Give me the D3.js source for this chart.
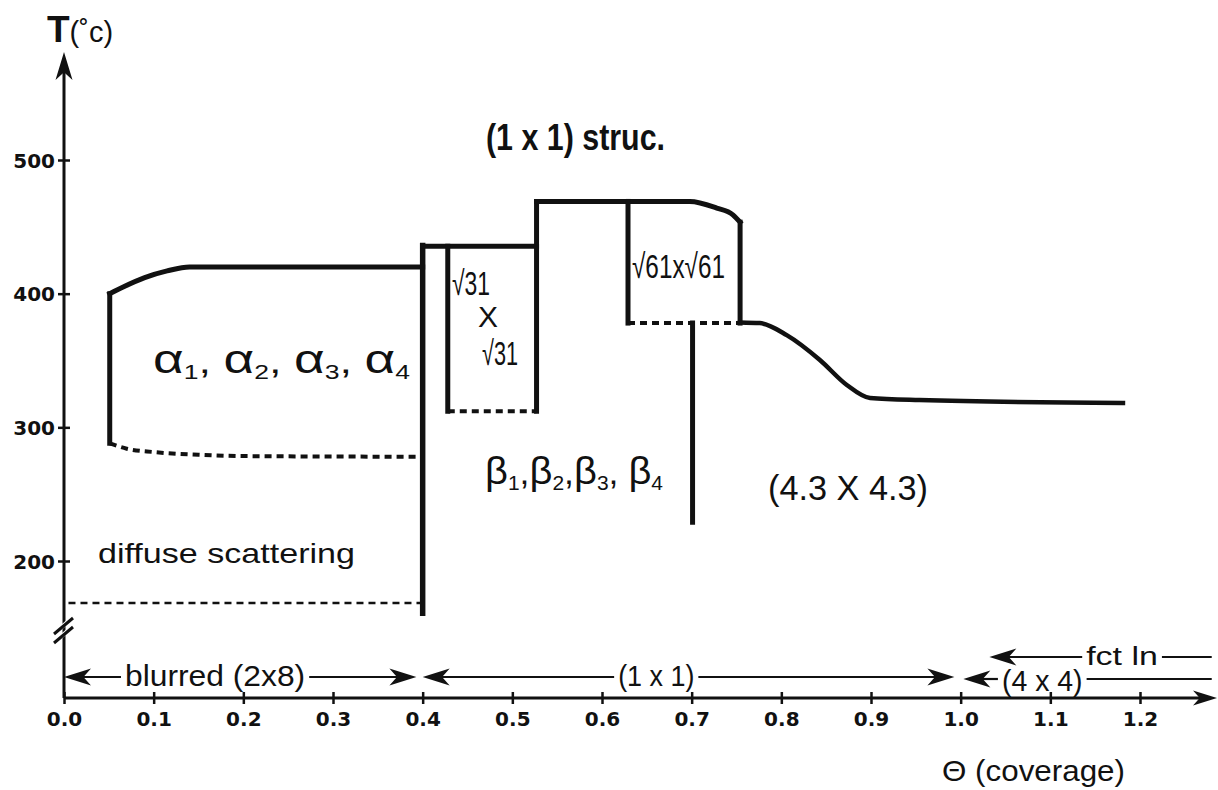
<!DOCTYPE html>
<html><head><meta charset="utf-8">
<script src="https://cdn.jsdelivr.net/npm/d3@7/dist/d3.min.js"></script>
<style>body{margin:0;background:#fff}svg{display:block}</style>
</head><body>
<svg id="chart" width="1218" height="790"></svg>
<script>
// ---------- data ----------
const xTickValues = [0.0,0.1,0.2,0.3,0.4,0.5,0.6,0.7,0.8,0.9,1.0,1.1,1.2];
const xTickLabels = ["0.0","0.1","0.2","0.3","0.4","0.5","0.6","0.7","0.8","0.9","1.0","1.1","1.2"];
const yTickValues = [200,300,400,500];
const yTickLabels = ["200","300","400","500"];

// phase boundaries: [theta (coverage), T (°C)]
const alphaWall    = [[0.051,288],[0.051,400]];
const alphaUpper   = [[0.051,400],[0.066,405],[0.09,412],[0.115,417],[0.14,420],[0.40,420]];
const alphaLower   = [[0.051,288],[0.07,284],[0.10,281.5],[0.15,279.5],[0.20,278.5],[0.40,278]];
const diffuseLimit = [[0.005,168.5],[0.40,168.5]];
const wall04       = [[0.40,161],[0.40,436]];
const sqrt31Top    = [[0.40,435.5],[0.527,435.5]];
const sqrt31Left   = [[0.428,435.5],[0.428,312]];
const sqrt31Bottom = [[0.428,312],[0.527,312]];
const sqrt31Right  = [[0.527,312],[0.527,469]];
const sqrt61Top    = [[0.527,469],[0.629,469],[0.698,469],[0.728,464],[0.746,459],[0.754,453.5]];
const sqrt61Left   = [[0.629,469],[0.629,378]];
const sqrt61Right  = [[0.754,453.5],[0.754,378]];
const sqrt61Bottom = [[0.629,378],[0.754,378]];
const wall07       = [[0.701,378],[0.701,229]];
const highCovCurve = [[0.754,378.5],[0.776,378],[0.806,369],[0.843,350.4],[0.873,331.7],[0.899,321.9],[0.954,320.4],[1.181,318.2]];

// coverage bands below the break (theta ranges)
const bandLabels = ["blurred (2x8)","(1 x 1)","(4 x 4)","fct ln"];
const bandFrom   = [0.0, 0.400, 1.003, 1.032];
const bandTo     = [0.393, 0.993, 1.280, 1.280];
const bandTextFrom = [0.068, 0.618, 1.046, 1.140];
const bandTextTo   = [0.269, 0.703, 1.136, 1.220];
const bandLeftHead  = [true, true, true, true];
const bandRightHead = [true, true, false, false];
const bandRow = [0, 0, 0, 1];

// ---------- drawing ----------
const svg = d3.select("#chart");
const x = d3.scaleLinear().domain([0,1.2]).range([64,1140]);
const y = d3.scaleLinear().domain([200,500]).range([561,160]);
const axisY = 698;
const x0 = x(0);
const ink = "#111";
const FONT = "'Liberation Sans', Arial, sans-serif";

// axis lines
svg.append("line").attr("x1",x0).attr("y1",axisY).attr("x2",x0).attr("y2",60)
  .attr("stroke",ink).attr("stroke-width",3);
svg.append("line").attr("x1",x0).attr("y1",axisY).attr("x2",1205).attr("y2",axisY)
  .attr("stroke",ink).attr("stroke-width",3);

function head(px, py, dir, L, h, vertical) {
  const p = vertical
    ? `M0,0 L${-h},${L} L0,${L*0.72} L${h},${L} Z`
    : `M0,0 L${-dir*L},${-h} L${-dir*L*0.72},0 L${-dir*L},${h} Z`;
  svg.append("path").attr("d",p).attr("transform",`translate(${px},${py})`).attr("fill",ink);
}
head(x0, 52, 0, 28, 8.5, true);
head(1217, axisY, 1, 24, 7.5, false);

// break marks
[0,-9].forEach(o=>{
  svg.append("rect").attr("x",x0-8).attr("y",628+o+4).attr("width",16).attr("height",4).attr("fill","#fff")
    .attr("transform",`rotate(-40,${x0},${634+o})`);
  svg.append("line").attr("x1",x0-10).attr("y1",643+o).attr("x2",x0+9).attr("y2",627+o)
    .attr("stroke",ink).attr("stroke-width",3);
});

// y ticks
const yAx = svg.append("g").attr("transform",`translate(${x0},0)`)
  .call(d3.axisLeft(y).tickValues(yTickValues).tickFormat((d,i)=>yTickLabels[i]).tickSize(6));
yAx.select(".domain").remove();
yAx.selectAll(".tick line").attr("x1",-6).attr("x2",6).attr("stroke",ink).attr("stroke-width",2.5);
yAx.selectAll(".tick text").attr("x",-9).attr("dy","0.36em")
  .attr("font-family","'DejaVu Sans', sans-serif").attr("font-weight","bold").attr("font-size",20).attr("fill",ink);

// x ticks
const xAx = svg.append("g").attr("transform",`translate(0,${axisY})`)
  .call(d3.axisBottom(x).tickValues(xTickValues).tickFormat((d,i)=>xTickLabels[i]).tickSize(6));
xAx.select(".domain").remove();
xAx.selectAll(".tick line").attr("y1",-6).attr("y2",6).attr("stroke",ink).attr("stroke-width",2.5);
xAx.selectAll(".tick text").attr("y",14).attr("dy","0.71em")
  .attr("font-family","'DejaVu Sans', sans-serif").attr("font-weight","bold").attr("font-size",20).attr("fill",ink);

// boundaries
const lineLin = d3.line().x(d=>x(d[0])).y(d=>y(d[1]));
const lineCurve = d3.line().x(d=>x(d[0])).y(d=>y(d[1])).curve(d3.curveMonotoneX);
function solid(data, curve, w) {
  svg.append("path").attr("d",(curve?lineCurve:lineLin)(data)).attr("fill","none")
    .attr("stroke",ink).attr("stroke-width",w||5).attr("stroke-linecap","square").attr("stroke-linejoin","round");
}
function dashed(data, curve, w, dash) {
  svg.append("path").attr("d",(curve?lineCurve:lineLin)(data)).attr("fill","none")
    .attr("stroke",ink).attr("stroke-width",w).attr("stroke-dasharray",dash);
}
dashed(alphaLower, true, 4, "7,5");
dashed(diffuseLimit, false, 2.5, "7,5");
dashed(sqrt31Bottom, false, 4, "7,5");
dashed(sqrt61Bottom, false, 4, "7,5");
solid(alphaWall, false);
solid(alphaUpper, true);
solid(wall04, false, 5.5);
solid(sqrt31Top, false);
solid(sqrt31Left, false);
solid(sqrt31Right, false);
solid(sqrt61Top, true);
solid(sqrt61Left, false);
solid(sqrt61Right, false);
solid(wall07, false);
solid(highCovCurve, true, 4.5);

// text helper
function txt(str, x1, x2, base, size, opts) {
  opts = opts || {};
  const t = svg.append("text").attr("x",x1).attr("y",base)
    .attr("font-family",opts.family||FONT).attr("font-size",size)
    .attr("font-weight",opts.bold?"bold":"normal").attr("fill",ink)
    .attr("textLength",x2-x1).attr("lengthAdjust","spacingAndGlyphs");
  if (Array.isArray(str)) {
    str.forEach(s=>{
      const ts = t.append("tspan").text(s[0]);
      if (s[1]) ts.attr("font-size",s[1]).attr("dy",s[2]||0);
    });
  } else t.text(str);
  return t;
}

// axis titles
svg.append("text").attr("x",47).attr("y",42).attr("font-family",FONT).attr("fill",ink)
  .call(t=>{
    t.append("tspan").text("T").attr("font-weight","bold").attr("font-size",37);
    t.append("tspan").text("(˚c)").attr("font-size",29);
  });
txt("Θ (coverage)", 942, 1125, 781, 29);

// region labels
txt("(1 x 1) struc.", 486, 665, 150, 36, {bold:true});
txt([["α",40],["1",20,6],[",  ",34,-6],["α",40],["2",20,6],[",  ",34,-6],["α",40],["3",20,6],[",  ",34,-6],["α",40],["4",20,6]], 153, 410, 373, 40);
txt("√31", 452, 490, 295, 34);
txt("X", 478, 498, 327, 30);
txt("√31", 482, 518, 365, 34);
txt("√61x√61", 632, 725, 278, 34);
txt([["β",38],["1",20,6],[",",34,-6],["β",38],["2",20,6],[",",34,-6],["β",38],["3",20,6],[", ",34,-6],["β",38],["4",20,6]], 485, 663, 484, 38);
txt("(4.3 X 4.3)", 768, 928, 500, 35);
txt("diffuse scattering", 98, 355, 563, 28);

// coverage bands with arrows
const rowY = [677, 657];
bandLabels.forEach((lab,i)=>{
  let ry = rowY[bandRow[i]];
  if (i===2) ry = 679;
  const a = x(bandFrom[i]), b = x(bandTo[i]);
  const ta = x(bandTextFrom[i]), tb = x(bandTextTo[i]);
  svg.append("line").attr("x1",a+10).attr("y1",ry).attr("x2",ta-4).attr("y2",ry).attr("stroke",ink).attr("stroke-width",2.2);
  svg.append("line").attr("x1",tb+4).attr("y1",ry).attr("x2",bandRightHead[i]?b-10:b).attr("y2",ry).attr("stroke",ink).attr("stroke-width",2.2);
  if (bandLeftHead[i]) head(a, ry, -1, 27, 8.5, false);
  if (bandRightHead[i]) head(b, ry, 1, 27, 8.5, false);
  const base = i===3 ? 665 : (i===2 ? 691 : 686);
  txt(lab, ta, tb, base, i===3?26:29);
});
</script>
</body></html>
